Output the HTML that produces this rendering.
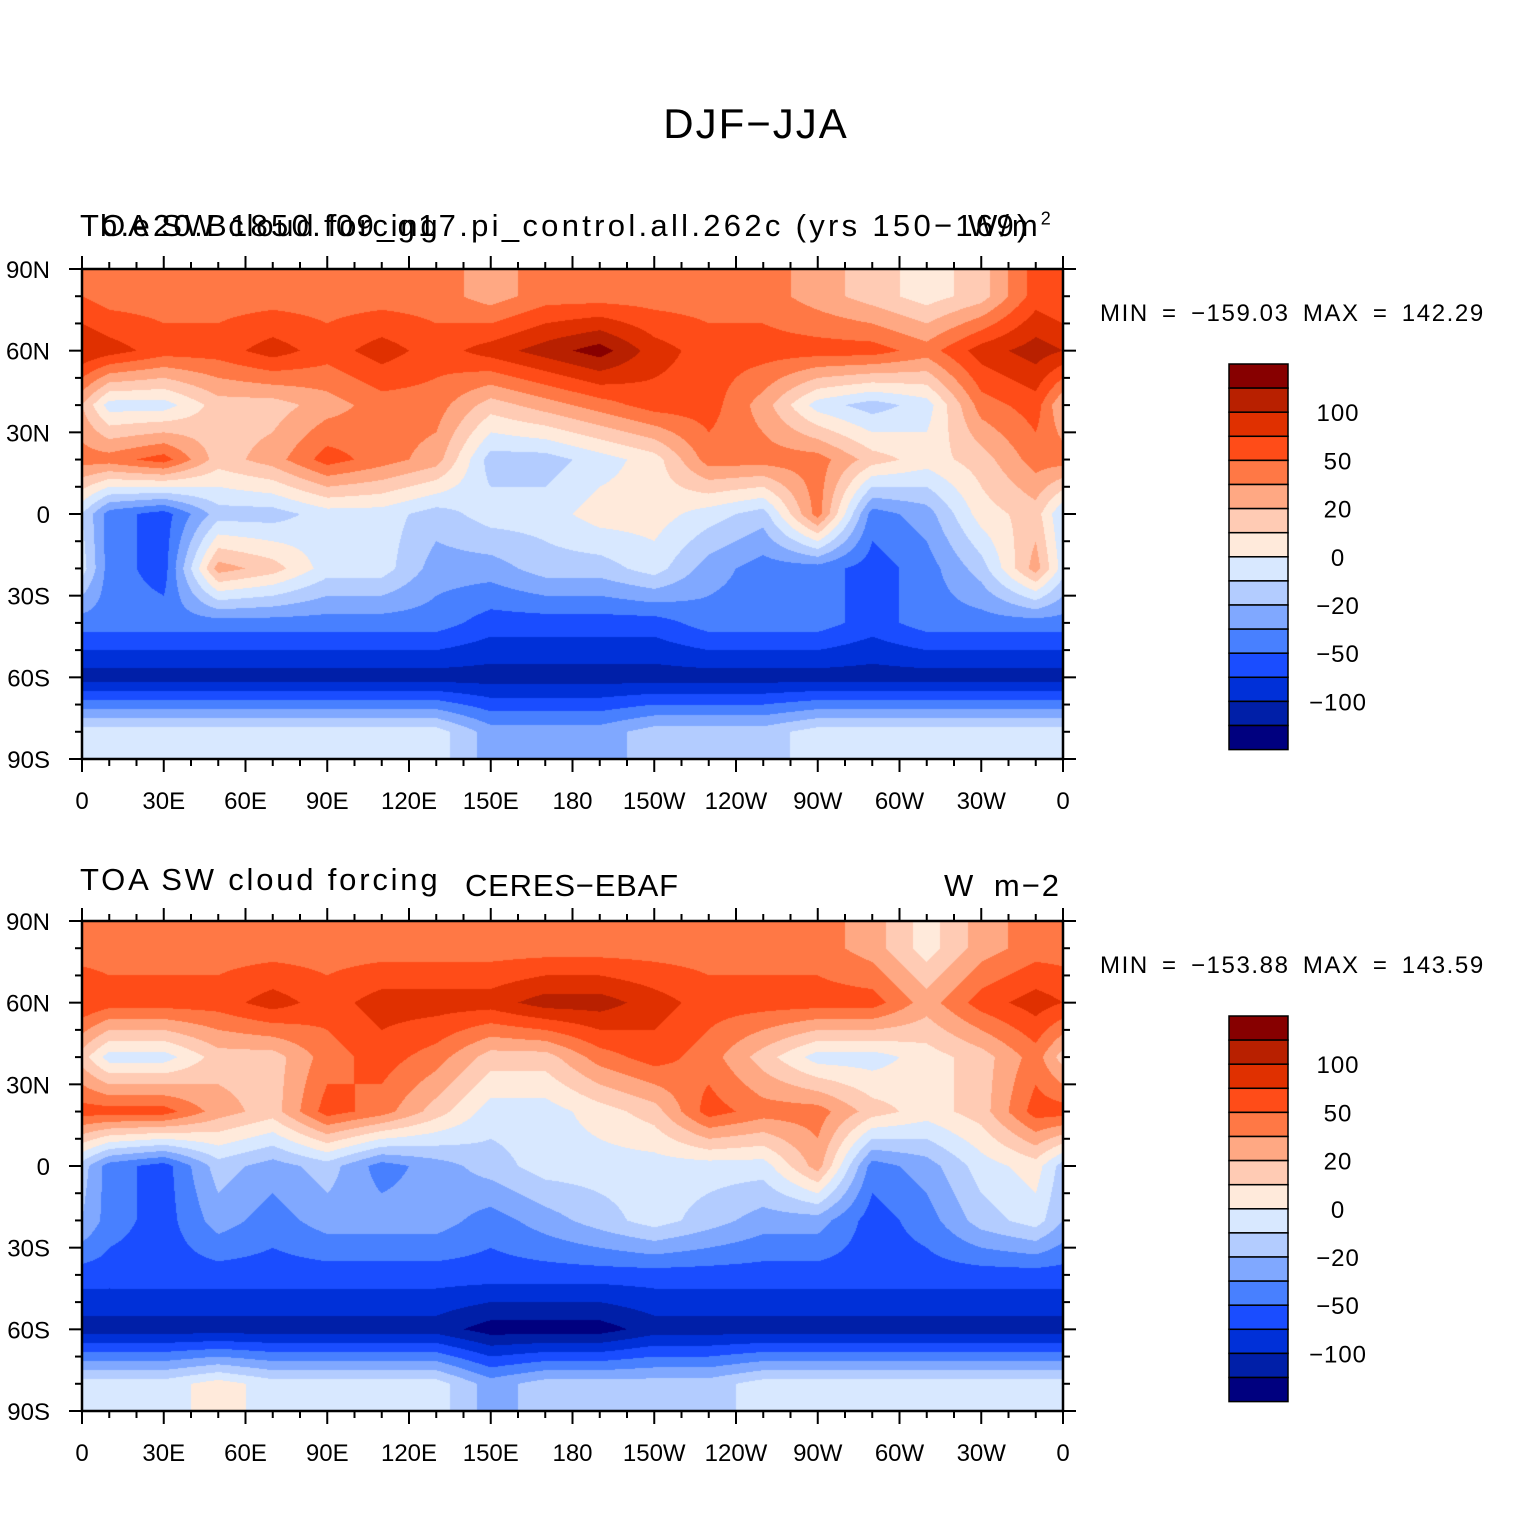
<!DOCTYPE html>
<html><head><meta charset="utf-8"><style>
body{margin:0;background:#fff;width:1526px;height:1538px;position:relative;overflow:hidden;font-family:"Liberation Sans",sans-serif;color:#000}
.t{position:absolute;white-space:nowrap}
canvas{position:absolute}
svg{position:absolute;left:0;top:0}
</style></head><body>
<div class="t" style="left:0;width:1512px;text-align:center;top:100px;font-size:42px;letter-spacing:2px">DJF−JJA</div>

<div class="t" style="left:80px;top:208px;font-size:31px;letter-spacing:2.8px">TOA SW cloud forcing</div>
<div class="t" style="left:100px;top:208px;font-size:31px;letter-spacing:3.3px">b.e20.B1850.f09_g17.pi_control.all.262c (yrs 150−169)</div>
<div class="t" style="left:968px;top:208px;font-size:31px;letter-spacing:3px">W/m<sup style="font-size:18px">2</sup></div>
<div class="t" style="left:1100px;top:300px;font-size:24px;letter-spacing:1.6px;word-spacing:5px">MIN = −159.03 MAX = 142.29</div>

<div class="t" style="left:80px;top:862px;font-size:31px;letter-spacing:2.8px">TOA SW cloud forcing</div>
<div class="t" style="left:465px;top:868px;font-size:31px;letter-spacing:0.8px">CERES−EBAF</div>
<div class="t" style="left:944px;top:868px;font-size:31px;letter-spacing:2px;word-spacing:8px">W m−2</div>
<div class="t" style="left:1100px;top:952px;font-size:24px;letter-spacing:1.6px;word-spacing:5px">MIN = −153.88 MAX = 143.59</div>

<canvas id="c1" width="981" height="490" style="left:82px;top:269px"></canvas>
<canvas id="c2" width="981" height="490" style="left:82px;top:921px"></canvas>
<svg id="ov" width="1526" height="1538"></svg>

<script>
const levelColors=["#00007f","#001fa8","#0030d8","#1a4dff","#4880ff","#80a8ff","#b3ccff","#d8e8ff","#ffeadb","#ffcbb4","#ffa883","#ff7845","#ff4c18","#e03000","#b82000","#870000"];
const cbLabels=["100","50","20","0","−20","−50","−100"];
const cbLabelBoundaries=[2,4,6,8,10,12,14];
const lonLabels=["0","30E","60E","90E","120E","150E","180","150W","120W","90W","60W","30W","0"];
const latLabels=["90N","60N","30N","0","30S","60S","90S"];
// level indices (0..15) on 20deg cells, rows 80N..80S, cols lon 10..350
const fieldModel=[
[11,11,11,11,11,11,11,10,11,11,11,11,11,10,9,8,9,12],
[13,12,12,13,12,13,12,13,14,15,13,12,12,12,12,11,13,14],
[7,7,9,9,10,11,11,9,10,11,12,12,10,7,6,7,11,12],
[11,12,9,10,12,11,10,6,6,7,8,11,11,11,9,8,9,11],
[4,3,6,6,7,7,6,7,7,8,8,7,6,11,4,5,8,9],
[4,3,10,9,7,7,5,5,6,6,7,5,4,4,3,4,6,10],
[4,4,4,4,4,4,4,3,3,3,3,4,4,4,3,4,4,4],
[1,1,1,1,1,1,1,1,1,1,1,1,1,1,1,1,1,1],
[7,7,7,7,7,7,7,5,5,5,6,6,6,7,7,7,7,7]];
const fieldObs=[
[11,11,11,11,11,11,11,11,11,11,11,11,11,11,10,8,10,11],
[12,12,12,13,12,13,13,13,14,14,13,12,12,12,12,10,12,13],
[7,7,9,9,11,12,11,9,9,11,12,11,9,7,7,8,9,11],
[12,12,10,9,12,11,9,7,7,8,9,12,11,11,9,8,9,12],
[4,3,6,5,6,4,5,6,7,7,7,7,7,10,4,5,7,8],
[4,3,5,4,5,5,5,4,5,6,7,6,5,5,3,4,6,7],
[3,3,3,3,3,3,3,3,3,3,3,3,3,3,3,3,3,3],
[1,1,1,1,1,1,1,0,0,0,1,1,1,1,1,1,1,1],
[7,7,8,7,7,7,7,5,6,6,6,6,7,7,7,7,7,7]];

function hex(h){return [parseInt(h.substr(1,2),16),parseInt(h.substr(3,2),16),parseInt(h.substr(5,2),16)];}
const rgb=levelColors.map(hex);
function drawMap(id,field){
  const cv=document.getElementById(id),ctx=cv.getContext('2d');
  const W=cv.width,H=cv.height,img=ctx.createImageData(W,H);
  const nr=field.length,nc=field[0].length;
  for(let y=0;y<H;y++){
    const lat=90-180*(y+0.5)/H;
    let r=(80-lat)/20; r=Math.max(0,Math.min(nr-1,r));
    const r0=Math.floor(r),r1=Math.min(nr-1,r0+1),fr=r-r0;
    for(let x=0;x<W;x++){
      const lon=360*(x+0.5)/W;
      let c=(lon-10)/20; if(c<0)c+=nc;
      const c0=Math.floor(c)%nc,c1=(c0+1)%nc,fc=c-Math.floor(c);
      const v=(field[r0][c0]*(1-fc)+field[r0][c1]*fc)*(1-fr)+(field[r1][c0]*(1-fc)+field[r1][c1]*fc)*fr;
      const k=Math.max(0,Math.min(15,Math.round(v)));
      const i=(y*W+x)*4;
      img.data[i]=rgb[k][0];img.data[i+1]=rgb[k][1];img.data[i+2]=rgb[k][2];img.data[i+3]=255;
    }
  }
  ctx.putImageData(img,0,0);
}
drawMap('c1',fieldModel);
drawMap('c2',fieldObs);

const NS="http://www.w3.org/2000/svg",ov=document.getElementById('ov');
function mk(tag,attrs,parent){const e=document.createElementNS(NS,tag);for(const k in attrs)e.setAttribute(k,attrs[k]);(parent||ov).appendChild(e);return e;}
const X0=82,X1=1063,MW=X1-X0,MH=490;
function lonX(lon){return X0+MW*lon/360;}
function drawAxes(Y0,tag){
  const g=mk('g',{});
  
  
  mk('rect',{x:X0,y:Y0,width:MW,height:MH,fill:'none',stroke:'#000','stroke-width':2.5},g);
  for(let lon=0;lon<=360;lon+=10){
    const major=lon%30===0,len=major?13:7,x=lonX(lon);
    mk('line',{x1:x,x2:x,y1:Y0,y2:Y0-len,stroke:'#000','stroke-width':2},g);
    mk('line',{x1:x,x2:x,y1:Y0+MH,y2:Y0+MH+len,stroke:'#000','stroke-width':2},g);
  }
  for(let lat=-90;lat<=90;lat+=10){
    const major=lat%30===0,len=major?13:7,y=Y0+MH*(90-lat)/180;
    mk('line',{x1:X0,x2:X0-len,y1:y,y2:y,stroke:'#000','stroke-width':2},g);
    mk('line',{x1:X1,x2:X1+len,y1:y,y2:y,stroke:'#000','stroke-width':2},g);
  }
  lonLabels.forEach((s,i)=>{
    const t=mk('text',{x:lonX(i*30),y:Y0+MH+50,'font-size':24,'text-anchor':'middle','font-family':'Liberation Sans'},g);
    t.textContent=s;
    
    
  });
  latLabels.forEach((s,i)=>{
    const t=mk('text',{x:50,y:Y0+MH*i/6+9,'font-size':24,'text-anchor':'end','font-family':'Liberation Sans'},g);
    t.textContent=s;
    
    
  });
}
function drawColorbar(Y0,tag){
  const g=mk('g',{});
  
  
  const bx=1229,bw=59,bh=24.1;
  levelColors.slice().reverse().forEach((c,i)=>{
    mk('rect',{x:bx,y:Y0+i*bh,width:bw,height:bh,fill:c,stroke:'#000','stroke-width':1.5},g);
  });
  cbLabels.forEach((s,i)=>{
    const t=mk('text',{x:1338,y:Y0+cbLabelBoundaries[i]*bh+9,'font-size':24,'text-anchor':'middle','font-family':'Liberation Sans','letter-spacing':1},g);
    t.textContent=s;
    
    
  });
}
drawAxes(269,'top');drawAxes(921,'bottom');
drawColorbar(364,'top');drawColorbar(1016,'bottom');
</script>
</body></html>
